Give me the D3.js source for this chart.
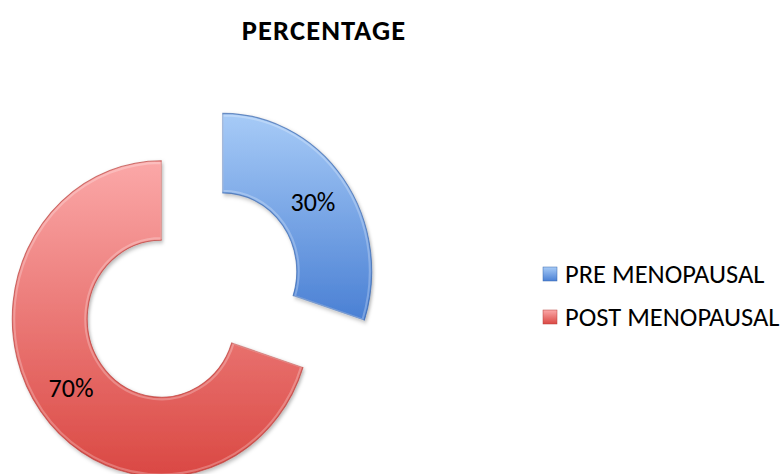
<!DOCTYPE html>
<html>
<head>
<meta charset="utf-8">
<script src="https://cdn.jsdelivr.net/npm/d3@7"></script>
<style>
html,body{margin:0;padding:0;background:#fff;}
svg{display:block;}
</style>
</head>
<body>
<svg id="chart" width="782" height="474"></svg>
<script>
const title = "PERCENTAGE";
const categories = ["PRE MENOPAUSAL", "POST MENOPAUSAL"];
const values = [30, 70];
const labels = ["30%", "70%"];
const topColors = ["#a7cbf7", "#fba8a8"];
const bottomColors = ["#4a80d4", "#da4843"];
const edgeColors = ["#3a67ad", "#b8403c"];

const svg = d3.select("#chart");
const fontFam = "Carlito, Lato, 'Liberation Sans', sans-serif";

const defs = svg.append("defs");
categories.forEach((c, i) => {
  const g = defs.append("linearGradient").attr("id", "grad" + i)
    .attr("x1", 0).attr("y1", 0).attr("x2", 0).attr("y2", 1);
  g.append("stop").attr("offset", "0%").attr("stop-color", topColors[i]);
  g.append("stop").attr("offset", "100%").attr("stop-color", bottomColors[i]);
  const lg = defs.append("linearGradient").attr("id", "lgrad" + i)
    .attr("x1", 0).attr("y1", 0).attr("x2", 0).attr("y2", 1);
  lg.append("stop").attr("offset", "0%").attr("stop-color", topColors[i]);
  lg.append("stop").attr("offset", "100%").attr("stop-color", bottomColors[i]);
});
const f = defs.append("filter").attr("id", "shadow").attr("x", "-10%").attr("y", "-10%").attr("width", "130%").attr("height", "130%");
f.append("feDropShadow").attr("dx", 1.5).attr("dy", 2).attr("stdDeviation", 1.8).attr("flood-color", "#000").attr("flood-opacity", 0.28);

// title
svg.append("text").attr("x", 324).attr("y", 40).attr("text-anchor", "middle")
  .style("font-family", fontFam).style("font-weight", "bold").style("font-size", "28.5px")
  .style("letter-spacing", "1.1px")
  .attr("fill", "#000").text(title);

// donut
const cx = 192, cy = 295, sy = 1.06;
const outerR = 149, innerR = 74, explode = 38;
const pie = d3.pie().sort(null).value(d => d);
const arcs = pie(values);
const arc = d3.arc().innerRadius(innerR).outerRadius(outerR);

const g = svg.append("g").attr("transform", `translate(${cx},${cy}) scale(1,${sy})`);
arcs.forEach((a, i) => {
  const mid = (a.startAngle + a.endAngle) / 2;
  const dx = Math.sin(mid) * explode, dy = -Math.cos(mid) * explode;
  const sg = g.append("g").attr("transform", `translate(${dx},${dy})`);
  sg.append("path").attr("d", arc(a))
    .attr("fill", `url(#grad${i})`)
    .attr("stroke", edgeColors[i]).attr("stroke-width", 1)
    .attr("stroke-opacity", 0.7)
    .attr("filter", "url(#shadow)");
  sg.append("path").attr("d", d3.arc().innerRadius(innerR + 2).outerRadius(outerR - 2)(a))
    .attr("fill", "none").attr("stroke", "#fff").attr("stroke-opacity", 0.25).attr("stroke-width", 2);
  const c = arc.centroid(a);
  svg.append("text")
    .attr("x", cx + c[0] + dx).attr("y", cy + (c[1] + dy) * sy)
    .attr("text-anchor", "middle").attr("dy", "0.35em")
    .style("font-family", fontFam).style("font-size", "26px")
    .attr("fill", "#000").text(labels[i]);
});

// legend
const lx = 543, ly = [274, 317];
categories.forEach((c, i) => {
  svg.append("rect").attr("x", lx).attr("y", ly[i] - 7).attr("width", 14).attr("height", 14)
    .attr("fill", `url(#lgrad${i})`).attr("stroke", edgeColors[i]).attr("stroke-width", 0.5);
  svg.append("text").attr("x", lx + 22).attr("y", ly[i]).attr("dy", "0.35em")
    .style("font-family", fontFam).style("font-size", "26.5px")
    .attr("fill", "#000").text(c);
});
</script>
</body>
</html>
